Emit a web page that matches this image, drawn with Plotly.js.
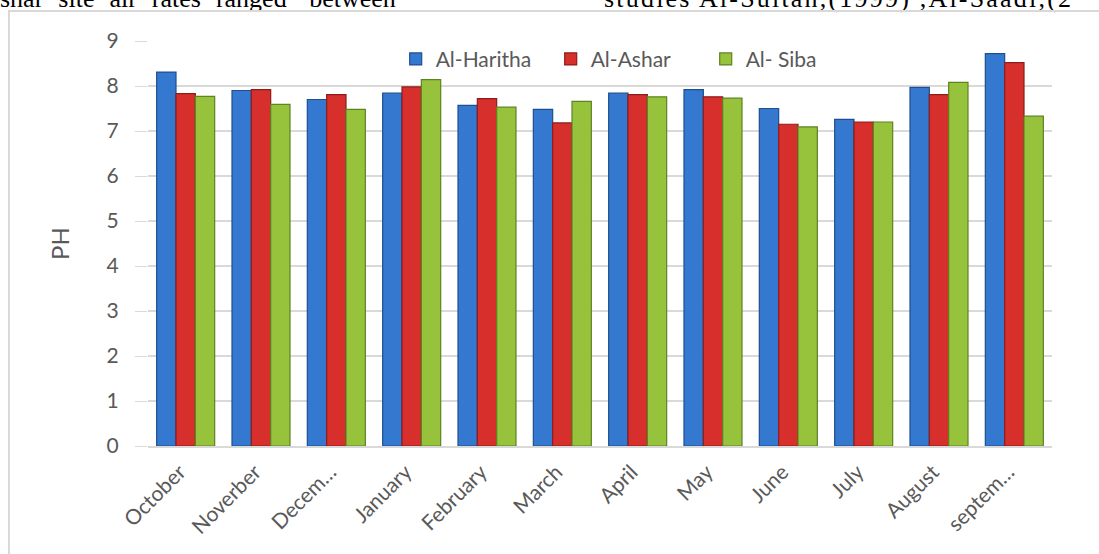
<!DOCTYPE html>
<html>
<head>
<meta charset="utf-8">
<script src="https://cdn.plot.ly/plotly-3.0.1.min.js"></script>
<style>
  html, body { margin: 0; padding: 0; background: #ffffff; }
  body { width: 1099px; height: 554px; position: relative; overflow: hidden; }
  #textline {
    position: absolute; left: 0; top: -14px; width: 1099px; height: 40px;
    font-family: "Liberation Serif", "DejaVu Serif", serif; font-size: 26px; line-height: 26px;
    color: #000; white-space: pre;
  }
  #textline span { position: absolute; top: 0; }
  #frame {
    position: absolute; left: 8px; top: 10px; width: 1200px; height: 700px;
    border: 2px solid #d9d9d9; box-sizing: border-box;
  }
  #chart { position: absolute; left: 0; top: 0; width: 1099px; height: 554px; }
</style>
</head>
<body>
<div id="textline"><span style="left:0px;word-spacing:1px">shar  site  air  rates  ranged   between</span><span style="left:604px;letter-spacing:2.2px">studies Al-Sultan,(1999) ,Al-Saadi,(2</span></div>
<div id="frame"></div>
<div id="chart"></div>
<script>
// Monthly pH readings at the three sampling stations
const months = ["October", "Noverber", "Decem…", "January", "February", "March",
                "April", "May", "June", "July", "August", "septem…"];
const alHaritha = [8.31, 7.90, 7.70, 7.84, 7.57, 7.48, 7.84, 7.92, 7.50, 7.26, 7.97, 8.72];
const alAshar   = [7.83, 7.92, 7.81, 7.98, 7.72, 7.18, 7.81, 7.76, 7.15, 7.20, 7.81, 8.52];
const alSiba    = [7.77, 7.59, 7.48, 8.14, 7.53, 7.66, 7.76, 7.73, 7.09, 7.20, 8.08, 7.33];
const yTicks = [0, 1, 2, 3, 4, 5, 6, 7, 8, 9];

const FONT = "Lato, 'Open Sans', sans-serif";
const TEXT = "#595959";

function barTrace(name, values, fill, edge) {
  return {
    type: "bar",
    name: name,
    x: months,
    y: values,
    marker: { color: fill, line: { color: edge, width: 1.2 } },
    hoverinfo: "x+y+name"
  };
}

const data = [
  barTrace("Al-Haritha", alHaritha, "#3479CF", "#1F4F8F"),
  barTrace("Al-Ashar", alAshar, "#D72F2B", "#8E1C1A"),
  barTrace("Al- Siba", alSiba, "#96C23C", "#5F8222")
];

const layout = {
  width: 1099,
  height: 554,
  margin: { l: 148, r: 47, t: 41, b: 108 },
  paper_bgcolor: "rgba(0,0,0,0)",
  plot_bgcolor: "rgba(0,0,0,0)",
  barmode: "group",
  bargap: 0.23,
  bargroupgap: 0,
  font: { family: FONT, color: TEXT },
  showlegend: true,
  legend: {
    orientation: "h",
    x: 0.274, xanchor: "left",
    y: 0.955, yanchor: "middle",
    font: { family: FONT, size: 21, color: TEXT },
    bgcolor: "rgba(0,0,0,0)",
    traceorder: "normal",
    entrywidth: 110,
    entrywidthmode: "pixels"
  },
  xaxis: {
    type: "category",
    tickangle: -45,
    tickfont: { family: FONT, size: 21, color: TEXT },
    ticks: "",
    showgrid: false,
    showline: true,
    linecolor: "#d9d9d9",
    linewidth: 1.5,
    ticklabelstandoff: 4,
    ticklabelshift: -6
  },
  yaxis: {
    range: [0, 9],
    tickvals: yTicks,
    ticktext: yTicks.map(String),
    tickfont: { family: FONT, size: 21, color: TEXT },
    ticks: "outside",
    ticklen: 12,
    tickcolor: "#d9d9d9",
    ticklabelstandoff: 12,
    showgrid: true,
    gridcolor: "#d9d9d9",
    gridwidth: 1.2,
    zeroline: true,
    zerolinecolor: "#d9d9d9",
    showline: false,
    title: {
      text: "PH",
      font: { family: FONT, size: 24, color: TEXT },
      standoff: 30
    }
  }
};

Plotly.newPlot("chart", data, layout, { displayModeBar: false, staticPlot: true });
</script>
</body>
</html>
